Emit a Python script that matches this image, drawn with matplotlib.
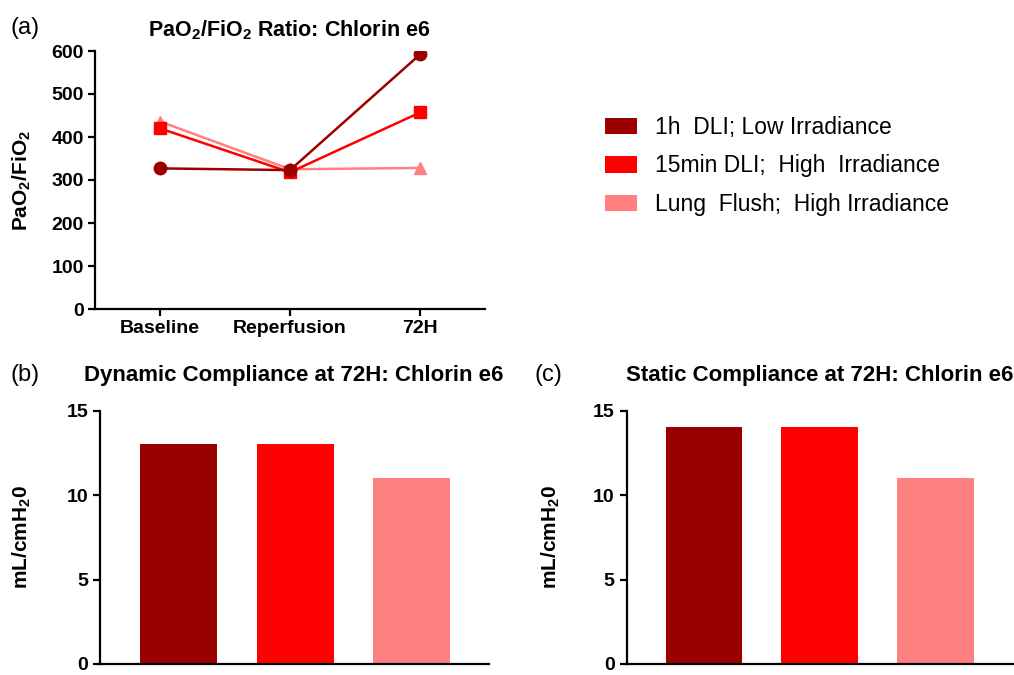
import numpy as np
import matplotlib
matplotlib.use("Agg")
import matplotlib.pyplot as plt
from matplotlib.patches import Patch

plt.rcParams.update({
    "font.family": ["Liberation Sans", "DejaVu Sans"],
    "axes.linewidth": 1.6,
    "xtick.major.width": 1.6,
    "ytick.major.width": 1.6,
    "xtick.major.size": 5,
    "ytick.major.size": 5,
    "mathtext.fontset": "custom",
    "mathtext.rm": "Liberation Sans",
    "mathtext.bf": "Liberation Sans:bold",
})

# data
timepoints = ["Baseline", "Reperfusion", "72H"]
groups = ["1h  DLI; Low Irradiance", "15min DLI;  High  Irradiance", "Lung  Flush;  High Irradiance"]
colours = ["#9b0000", "#ff0000", "#ff8080"]
markers = ["o", "s", "^"]
pf_1h = [327, 323, 592]
pf_15min = [420, 318, 457]
pf_flush = [436, 325, 328]
dyn_comp = [13, 13, 11]
stat_comp = [14, 14, 11]

tick_fs = 14
lab_fs = 15

fig = plt.figure(figsize=(10.14, 6.75), dpi=100)

def style(ax):
    ax.spines["top"].set_visible(False)
    ax.spines["right"].set_visible(False)
    for lab in ax.get_xticklabels() + ax.get_yticklabels():
        lab.set_fontweight("bold")

# (a) PaO2/FiO2
ax1 = fig.add_axes([95/1014, 1-309/675, 390/1014, 258/675])
x = np.arange(len(timepoints))
series = [pf_1h, pf_15min, pf_flush]
# pink first so the darker lines sit on top
for i in [2, 1, 0]:
    ax1.plot(x, series[i], color=colours[i], marker=markers[i], markersize=9,
             linewidth=1.8)
ax1.set_xlim(-0.5, 2.5)
ax1.set_ylim(0, 600)
ax1.set_yticks(range(0, 601, 100))
ax1.set_xticks(x)
ax1.set_xticklabels(timepoints)
ax1.tick_params(labelsize=tick_fs, pad=3)
ax1.set_ylabel(r"PaO$_\mathbf{2}$/FiO$_\mathbf{2}$", fontsize=lab_fs, fontweight="bold")
ax1.yaxis.set_label_coords(-0.159, 0.5)
style(ax1)
fig.text(289/1014, 1-30/675, r"PaO$_\mathbf{2}$/FiO$_\mathbf{2}$ Ratio: Chlorin e6",
         fontsize=15.5, fontweight="bold", ha="center", va="center")
fig.text(10/1014, 1-28/675, "(a)", fontsize=17, va="center")

# legend
handles = [Patch(facecolor=c, edgecolor="none") for c in colours]
fig.legend(handles, groups, loc="center left", bbox_to_anchor=(584/1014, 1-166/675),
           frameon=False, fontsize=16.5, handlelength=1.4, handleheight=0.75,
           labelspacing=0.68, handletextpad=0.8)

# (b) dynamic compliance
ax2 = fig.add_axes([100/1014, 1-664/675, 389/1014, 253.5/675])
ax2.bar(np.arange(3), dyn_comp, width=0.662, color=colours)
ax2.set_xlim(-0.675, 2.662)
ax2.set_ylim(0, 15)
ax2.set_yticks([0, 5, 10, 15])
ax2.set_xticks([])
ax2.tick_params(labelsize=tick_fs)
ax2.set_ylabel(r"mL/cmH$_\mathbf{2}$0", fontsize=lab_fs, fontweight="bold")
ax2.yaxis.set_label_coords(-0.172, 0.5)
style(ax2)
fig.text(294/1014, 1-375/675, "Dynamic Compliance at 72H: Chlorin e6", fontsize=16,
         fontweight="bold", ha="center", va="center")
fig.text(10/1014, 1-375/675, "(b)", fontsize=17, va="center")

# (c) static compliance
ax3 = fig.add_axes([626.5/1014, 1-664/675, 387.5/1014, 253.5/675])
ax3.bar(np.arange(3), stat_comp, width=0.663, color=colours)
ax3.set_xlim(-0.671, 2.68)
ax3.set_ylim(0, 15)
ax3.set_yticks([0, 5, 10, 15])
ax3.set_xticks([])
ax3.tick_params(labelsize=tick_fs)
ax3.set_ylabel(r"mL/cmH$_\mathbf{2}$0", fontsize=lab_fs, fontweight="bold")
ax3.yaxis.set_label_coords(-0.166, 0.5)
style(ax3)
fig.text(820/1014, 1-375/675, "Static Compliance at 72H: Chlorin e6", fontsize=16,
         fontweight="bold", ha="center", va="center")
fig.text(535/1014, 1-375/675, "(c)", fontsize=17, va="center")

plt.savefig("out.png", dpi=100)
